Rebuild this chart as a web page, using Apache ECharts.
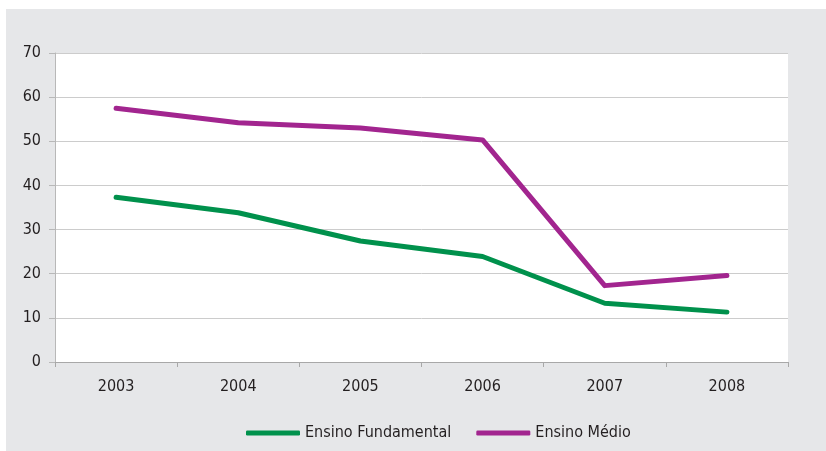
<!DOCTYPE html>
<html>
<head>
<meta charset="utf-8">
<script src="https://cdn.jsdelivr.net/npm/echarts@6/dist/echarts.min.js"></script>
<style>
html,body{margin:0;padding:0;background:#ffffff;width:826px;height:451px;overflow:hidden;}
#chart{position:absolute;left:6px;top:9px;width:820px;height:442px;background:#e6e7e9;}
</style>
</head>
<body>
<div id="chart"></div>
<script>
var categories = ['2003', '2004', '2005', '2006', '2007', '2008'];
var ensinoFundamental = [37.3, 33.8, 27.4, 23.9, 13.3, 11.3];
var ensinoMedio = [57.5, 54.2, 53.0, 50.3, 17.3, 19.6];
var seriesNames = ['Ensino Fundamental', 'Ensino Médio'];

var FONT = "'Liberation Sans Narrow', 'Arial Narrow', 'DejaVu Sans Condensed', 'Liberation Sans', Arial, sans-serif";
var FS = 16;
var chart = echarts.init(document.getElementById('chart'), null, {renderer: 'canvas'});
chart.setOption({
  backgroundColor: 'transparent',
  animation: false,
  textStyle: {fontFamily: FONT},
  grid: {left: 49, top: 44, right: 38, bottom: 89, show: true, backgroundColor: '#ffffff', borderWidth: 0},
  legend: {
    data: seriesNames,
    left: 235,
    top: 411,
    itemWidth: 54,
    itemHeight: 5,
    itemGap: 25,
    icon: 'roundRect',
    textStyle: {fontFamily: FONT, fontSize: FS, color: '#231f20'}
  },
  xAxis: {
    type: 'category',
    data: categories,
    boundaryGap: true,
    axisLine: {show: true, lineStyle: {color: '#a8a8a8', width: 1}},
    axisTick: {show: true, length: 5, lineStyle: {color: '#a8a8a8'}},
    axisLabel: {fontFamily: FONT, fontSize: FS, color: '#231f20', margin: 17},
    splitLine: {show: false}
  },
  yAxis: {
    type: 'value',
    min: 0,
    max: 70,
    interval: 10,
    axisLine: {show: true, lineStyle: {color: '#b8b8b8', width: 1}},
    axisTick: {show: true, length: 6, lineStyle: {color: '#b8b8b8'}},
    axisLabel: {fontFamily: FONT, fontSize: FS, color: '#231f20', margin: 14},
    splitLine: {show: true, lineStyle: {color: '#cccccc', width: 1}}
  },
  series: [
    {
      name: seriesNames[0],
      type: 'line',
      data: ensinoFundamental,
      symbol: 'none',
      color: '#00914c',
      lineStyle: {width: 5, color: '#00914c', cap: 'round', join: 'round'}
    },
    {
      name: seriesNames[1],
      type: 'line',
      data: ensinoMedio,
      symbol: 'none',
      color: '#a2258f',
      lineStyle: {width: 5, color: '#a2258f', cap: 'round', join: 'round'}
    }
  ]
});
</script>
</body>
</html>
